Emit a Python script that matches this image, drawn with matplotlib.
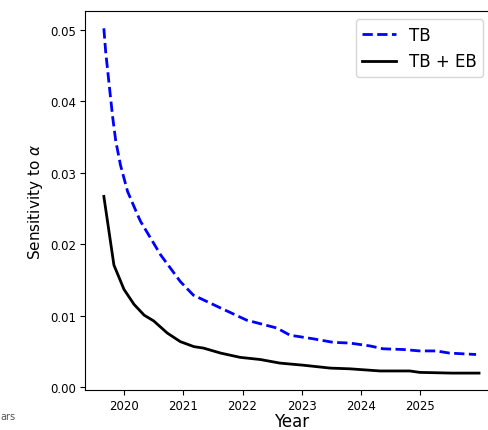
import matplotlib
matplotlib.use('Agg')
import matplotlib.pyplot as plt

# TB only
tb_year = [2019.66, 2019.69, 2019.75, 2019.81, 2019.86, 2019.94, 2020.06, 2020.23,
           2020.28, 2020.62, 2020.95, 2021.17, 2021.63, 2022.07, 2022.58, 2022.69,
           2022.80, 2023.19, 2023.53, 2023.81, 2024.15, 2024.37, 2024.71, 2024.99,
           2025.27, 2025.49, 2025.94]
tb_sens = [0.0502, 0.0470, 0.0423, 0.0377, 0.0345, 0.0311, 0.0274, 0.0241,
           0.0232, 0.0185, 0.0148, 0.0129, 0.0111, 0.0094, 0.0083, 0.0078,
           0.0073, 0.0068, 0.0063, 0.0062, 0.0058, 0.0054, 0.0053, 0.0051,
           0.0051, 0.0048, 0.0046]

# TB + EB
tbeb_year = [2019.66, 2019.83, 2020.00, 2020.17, 2020.34, 2020.50, 2020.73, 2020.95,
             2021.18, 2021.34, 2021.63, 2021.96, 2022.30, 2022.63, 2023.03, 2023.48,
             2023.81, 2024.32, 2024.82, 2024.99, 2025.54, 2025.99]
tbeb_sens = [0.0267, 0.0171, 0.0137, 0.0116, 0.0101, 0.0093, 0.0076, 0.0064,
             0.0057, 0.0055, 0.0048, 0.0042, 0.0039, 0.0034, 0.0031, 0.0027,
             0.0026, 0.0023, 0.0023, 0.0021, 0.0020, 0.0020]

fig = plt.figure(figsize=(4.89, 4.31), dpi=100)
ax = fig.add_axes([0.174, 0.092, 0.844, 0.88])

ax.plot(tb_year, tb_sens, '--', color='blue', lw=2, label='TB')
ax.plot(tbeb_year, tbeb_sens, '-', color='black', lw=2, label='TB + EB')

ax.set_xticks([2020, 2021, 2022, 2023, 2024, 2025])
ax.set_xticklabels(['2020', '2021', '2022', '2023', '2024', '2025'])
ax.set_yticks([0.0, 0.01, 0.02, 0.03, 0.04, 0.05])
ax.tick_params(labelsize=8.5, pad=3)
ax.set_xlabel('Year', fontsize=12, labelpad=0)
ax.set_ylabel(r'Sensitivity to $\alpha$', fontsize=11)

ax.legend(loc='upper right', fontsize=12, bbox_to_anchor=(0.985, 1.0))

# leftover text from neighbouring panel
fig.text(0.0, 0.025, 'ars', fontsize=7, color='#555555')

fig.savefig('out.png', dpi=100)
